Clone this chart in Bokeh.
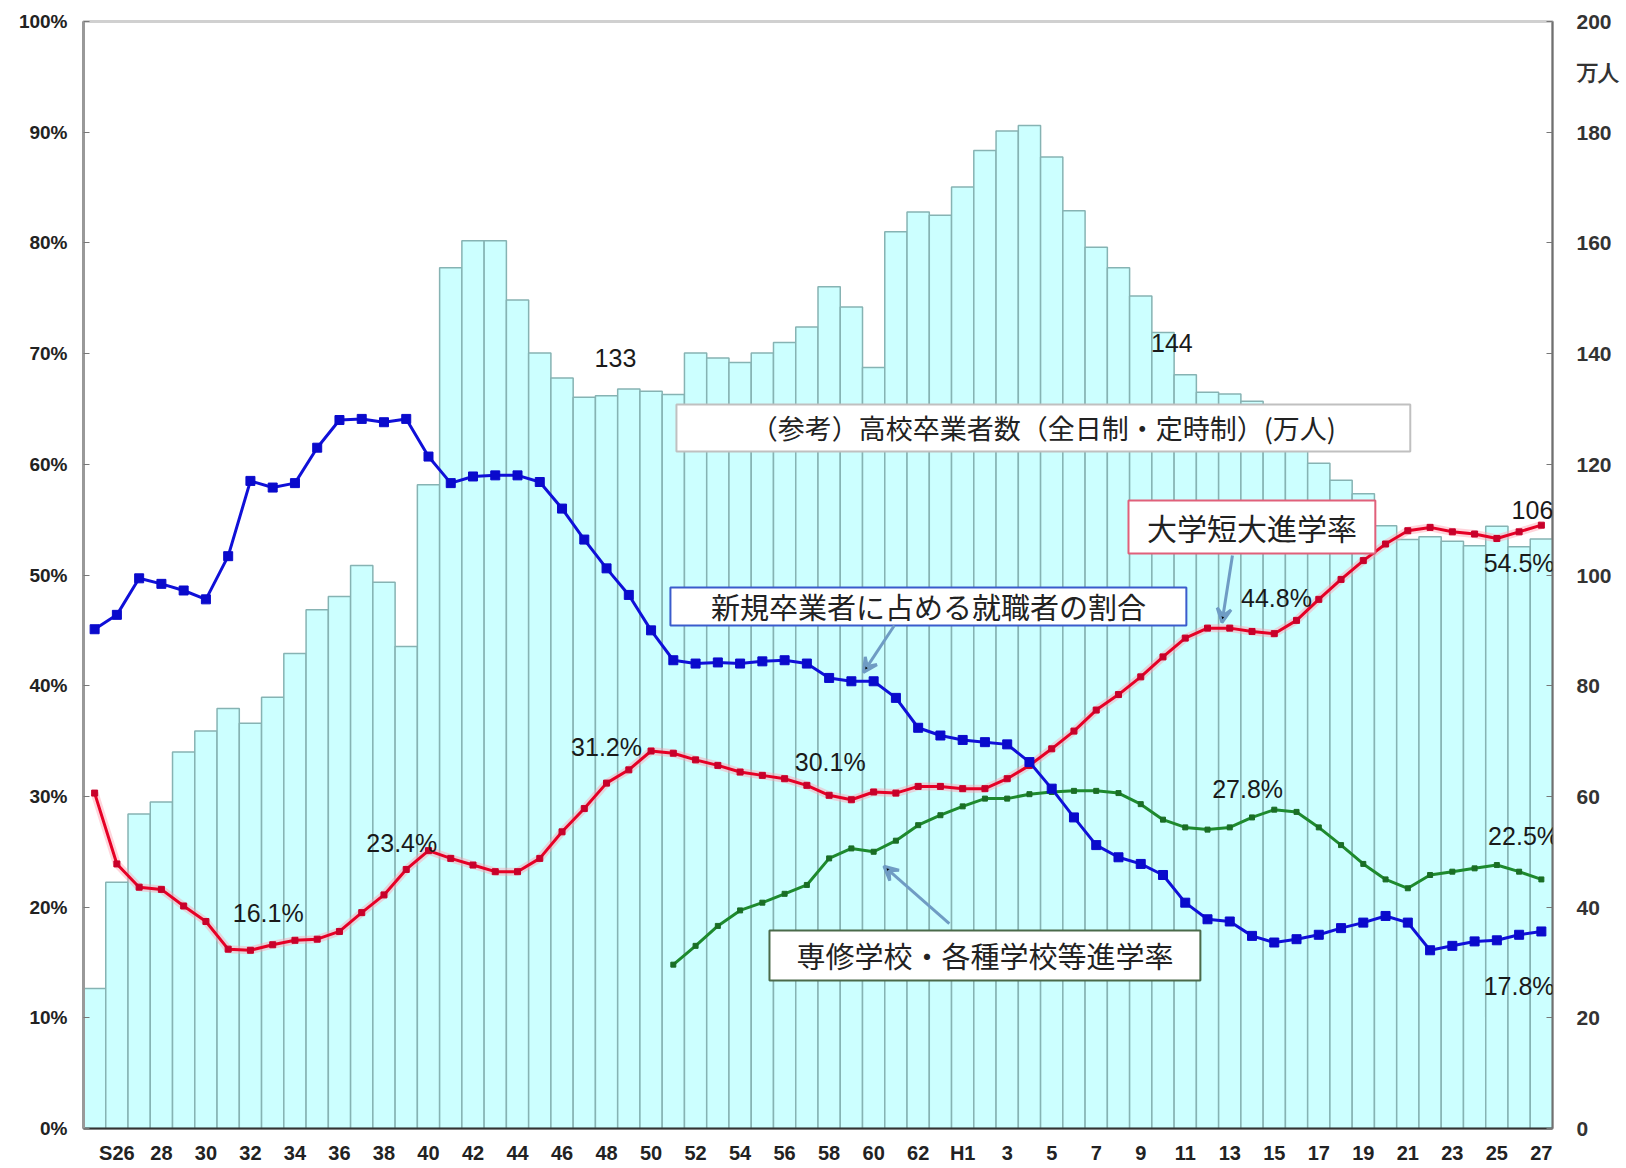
from bokeh.plotting import figure
from bokeh.models import Range1d, LinearAxis, FixedTicker, Label, BoxAnnotation, Arrow, VeeHead
from bokeh.embed import file_html
from bokeh.resources import INLINE

# ---- data ----
years = ["S25", "S26", "S27", "S28", "S29", "S30", "S31", "S32", "S33", "S34",
         "S35", "S36", "S37", "S38", "S39", "S40", "S41", "S42", "S43", "S44",
         "S45", "S46", "S47", "S48", "S49", "S50", "S51", "S52", "S53", "S54",
         "S55", "S56", "S57", "S58", "S59", "S60", "S61", "S62", "S63", "H1",
         "H2", "H3", "H4", "H5", "H6", "H7", "H8", "H9", "H10", "H11",
         "H12", "H13", "H14", "H15", "H16", "H17", "H18", "H19", "H20", "H21",
         "H22", "H23", "H24", "H25", "H26", "H27"]

tick_labels = ["S26", "28", "30", "32", "34", "36", "38", "40", "42", "44", "46",
               "48", "50", "52", "54", "56", "58", "60", "62", "H1", "3", "5",
               "7", "9", "11", "13", "15", "17", "19", "21", "23", "25", "27"]
tick_years = ["S26", "S28", "S30", "S32", "S34", "S36", "S38", "S40", "S42", "S44", "S46",
              "S48", "S50", "S52", "S54", "S56", "S58", "S60", "S62", "H1", "H3", "H5",
              "H7", "H9", "H11", "H13", "H15", "H17", "H19", "H21", "H23", "H25", "H27"]

# high-school graduates (10k persons, right axis)
graduates = [25.3, 44.5, 56.8, 59.0, 68.0, 71.8, 75.9, 73.2, 77.9, 85.8,
             93.7, 96.1, 101.7, 98.7, 87.1, 116.3, 155.5, 160.4, 160.4, 149.7,
             140.1, 135.6, 132.1, 132.4, 133.6, 133.2, 132.6, 140.1, 139.2, 138.4,
             140.1, 142.0, 144.8, 152.1, 148.4, 137.5, 162.0, 165.6, 165.0, 170.1,
             176.7, 180.2, 181.2, 175.5, 165.8, 159.2, 155.5, 150.4, 143.8, 136.2,
             133.0, 132.7, 131.4, 128.1, 123.5, 120.2, 117.1, 114.7, 108.9, 106.4,
             106.9, 106.1, 105.3, 108.8, 105.1, 106.5]

# share of new graduates who got jobs (%)
employment_rate = [45.1, 46.4, 49.7, 49.2, 48.6, 47.8, 51.7, 58.5, 57.9, 58.3,
                   61.5, 64.0, 64.1, 63.8, 64.1, 60.7, 58.3, 58.9, 59.0, 59.0,
                   58.4, 56.0, 53.2, 50.6, 48.2, 45.0, 42.3, 42.0, 42.1, 42.0,
                   42.2, 42.3, 42.0, 40.7, 40.4, 40.4, 38.9, 36.2, 35.5, 35.1,
                   34.9, 34.7, 33.1, 30.7, 28.1, 25.6, 24.5, 23.9, 22.9, 20.4,
                   18.9, 18.7, 17.4, 16.8, 17.1, 17.5, 18.1, 18.6, 19.2, 18.6,
                   16.1, 16.5, 16.9, 17.0, 17.5, 17.8]

# university / junior college entrance rate (%)
university_rate = [30.3, 23.9, 21.8, 21.6, 20.1, 18.7, 16.2, 16.1, 16.6, 17.0,
                   17.1, 17.8, 19.5, 21.1, 23.4, 25.1, 24.4, 23.8, 23.2, 23.2,
                   24.4, 26.8, 28.9, 31.2, 32.4, 34.1, 33.9, 33.3, 32.8, 32.2,
                   31.9, 31.6, 31.0, 30.1, 29.7, 30.4, 30.3, 30.9, 30.9, 30.7,
                   30.7, 31.6, 32.8, 34.3, 35.9, 37.8, 39.2, 40.8, 42.6, 44.3,
                   45.2, 45.2, 44.9, 44.7, 45.9, 47.8, 49.6, 51.3, 52.8, 54.0,
                   54.3, 53.9, 53.7, 53.3, 53.9, 54.5]

# vocational school etc. entrance rate (%), from S51
vocational_years = years[26:]
vocational_rate = [14.8, 16.5, 18.3, 19.7, 20.4, 21.2, 22.0, 24.4, 25.3, 25.0,
                   26.0, 27.4, 28.3, 29.1, 29.8, 29.8, 30.2, 30.4, 30.5, 30.5,
                   30.3, 29.3, 27.9, 27.2, 27.0, 27.2, 28.1, 28.8, 28.6, 27.2,
                   25.6, 23.9, 22.5, 21.7, 22.9, 23.2, 23.5, 23.8, 23.2, 22.5]

pct_ticks = [0, 10, 20, 30, 40, 50, 60, 70, 80, 90, 100]
num_ticks = [0, 20, 40, 60, 80, 100, 120, 140, 160, 180, 200]
unit_label = "万人"
unit_label_pos = 190.8

# ---- figure ----
pos = {y: i for i, y in enumerate(years)}
xs = [pos[y] for y in years]
xs_voc = [pos[y] for y in vocational_years]

p = figure(width=1622, height=1168, output_backend="svg", toolbar_location=None,
           x_range=Range1d(-0.5, len(years) - 0.5), y_range=Range1d(0, 100),
           min_border_left=83, min_border_right=70, min_border_top=21, min_border_bottom=40)
p.extra_y_ranges = {"grad": Range1d(0, 200)}
p.xgrid.grid_line_color = None
p.ygrid.grid_line_color = None
p.background_fill_color = "white"
p.outline_line_color = "#d0d0d0"
p.outline_line_width = 3

LBL_FONT = "Liberation Sans"

# bars
p.vbar(x=xs, top=graduates, width=1.0, y_range_name="grad",
       fill_color="#ccffff", line_color="#86b3b3", line_width=1.5)

# lines
p.line(xs, university_rate, line_color="#ffa0b0", line_width=8, line_alpha=0.45)
p.line(xs, university_rate, line_color="#e60026", line_width=3)
p.scatter(xs, university_rate, marker="square", size=6, fill_color="#c8002a", line_color="#c8002a")

p.line(xs_voc, vocational_rate, line_color="#1e8a2e", line_width=3)
p.scatter(xs_voc, vocational_rate, marker="square", size=5, fill_color="#1a6e26", line_color="#1a6e26")

p.line(xs, employment_rate, line_color="#1010d8", line_width=3)
p.scatter(xs, employment_rate, marker="square", size=9, fill_color="#0a0acc", line_color="#0a0acc")

# axes
xa = p.xaxis[0]
xa.ticker = FixedTicker(ticks=[pos[y] for y in tick_years])
xa.major_label_overrides = {pos[y]: t for y, t in zip(tick_years, tick_labels)}
xa.major_tick_line_color = None
xa.minor_tick_line_color = None
xa.axis_line_color = "#333333"
xa.axis_line_width = 2
xa.major_label_standoff = 7
xa.major_label_text_font = LBL_FONT
xa.major_label_text_font_style = "bold"
xa.major_label_text_font_size = "20px"
xa.major_label_text_color = "#222222"

ya = p.yaxis[0]
ya.ticker = FixedTicker(ticks=pct_ticks)
ya.major_label_overrides = {t: f"{t}%" for t in pct_ticks}
ya.major_tick_in = 6
ya.major_tick_out = 0
ya.major_tick_line_color = "#777777"
ya.minor_tick_line_color = None
ya.axis_line_color = "#999999"
ya.axis_line_width = 3
ya.major_label_standoff = 16
ya.major_label_text_font = LBL_FONT
ya.major_label_text_font_style = "bold"
ya.major_label_text_font_size = "19px"
ya.major_label_text_color = "#222222"

# right axis: numbers with inner marks (as minor ticks), plus the unit label without a mark
ra = LinearAxis(y_range_name="grad",
                ticker=FixedTicker(ticks=num_ticks + [unit_label_pos], minor_ticks=num_ticks))
ra.major_label_overrides = {unit_label_pos: unit_label}
ra.major_tick_in = 0
ra.major_tick_out = 0
ra.minor_tick_in = 6
ra.minor_tick_out = 0
ra.minor_tick_line_color = "#777777"
ra.minor_tick_line_width = 1
ra.axis_line_color = "#707070"
ra.axis_line_width = 2
ra.major_label_standoff = 24
ra.major_label_text_font = LBL_FONT
ra.major_label_text_font_style = "bold"
ra.major_label_text_font_size = "21px"
ra.major_label_text_color = "#333333"
p.add_layout(ra, "right")

# annotation boxes
JP = "Noto Sans CJK JP"
boxes = [
    (26.14, 59.11, 61.16, 65.4, "#c0c0c0", "（参考）高校卒業者数（全日制・定時制）(万人)", 27),
    (46.45, 57.54, 51.94, 56.73, "#e0607a", "大学短大進学率", 30),
    (25.87, 49.05, 45.44, 48.87, "#3a5ccc", "新規卒業者に占める就職者の割合", 29),
    (30.32, 49.68, 13.37, 17.89, "#4a6a4a", "専修学校・各種学校等進学率", 29),
]
for l, r, b, t, col, txt, fs in boxes:
    p.add_layout(BoxAnnotation(left=l, right=r, bottom=b, top=t, fill_color="white", fill_alpha=1.0,
                               line_color=col, line_width=2, line_alpha=1.0))
    p.add_layout(Label(x=(l + r) / 2, y=(b + t) / 2, text=txt, text_font=JP,
                       text_font_size=f"{fs}px", text_color="#222222",
                       text_align="center", text_baseline="middle"))

# arrows
for xs0, ys0, xe, ye in [(51.12, 51.76, 50.65, 45.7), (35.93, 45.44, 34.54, 41.2), (38.4, 18.5, 35.46, 23.7)]:
    p.add_layout(Arrow(x_start=xs0, y_start=ys0, x_end=xe, y_end=ye, line_color="#6f9cc4", line_width=3,
                       end=VeeHead(size=14, line_color="#6f9cc4", line_width=3)))

# value labels
value_labels = [
    (23.4, 69.6, "133"), (48.4, 71.0, "144"), (64.6, 55.9, "106"),
    (7.8, 19.5, "16.1%"), (13.8, 25.8, "23.4%"), (23.0, 34.5, "31.2%"), (33.05, 33.1, "30.1%"),
    (53.1, 47.9, "44.8%"), (64.0, 51.1, "54.5%"), (51.8, 30.7, "27.8%"),
    (64.2, 26.4, "22.5%"), (64.0, 12.9, "17.8%"),
]
for x, y, t in value_labels:
    p.add_layout(Label(x=x, y=y, text=t, text_font=LBL_FONT, text_font_size="25px",
                       text_color="#1a1a1a", text_align="center", text_baseline="middle"))

open("out.html", "w").write(file_html(p, INLINE))
